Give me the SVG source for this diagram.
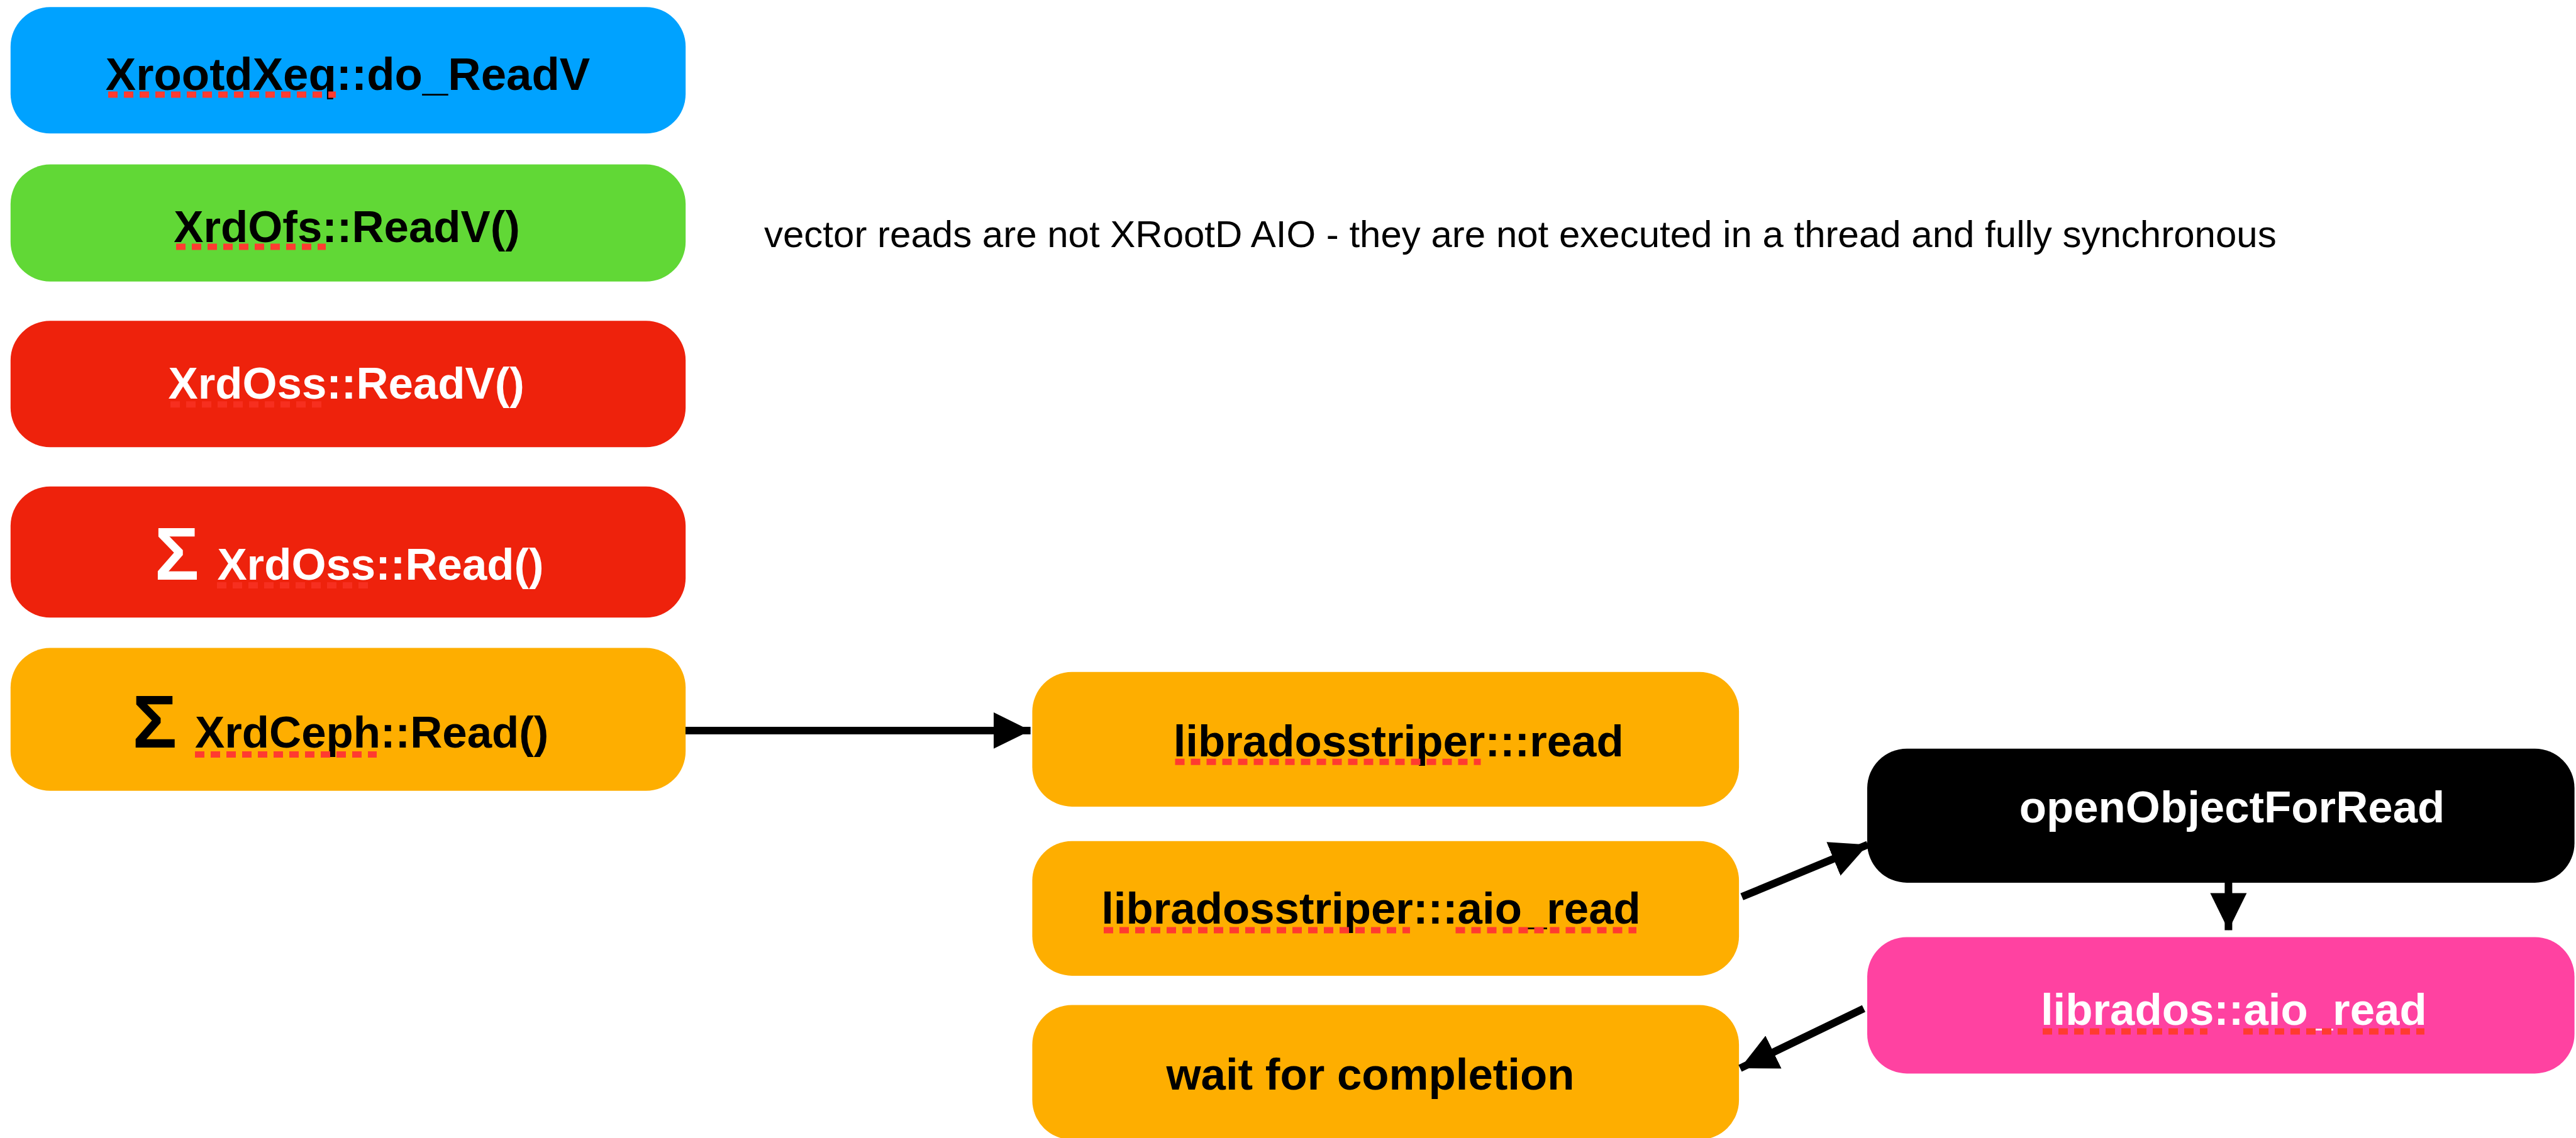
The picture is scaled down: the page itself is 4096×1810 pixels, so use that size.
<svg xmlns="http://www.w3.org/2000/svg" width="4096" height="1810" viewBox="0 0 4096 1810">
<style>
.box{stroke:none}
.lbl{font-family:"Liberation Sans",Arial,Helvetica,sans-serif;font-weight:bold;font-size:70.8px;text-anchor:middle}
.lft{text-anchor:start}
.sig{font-family:"Liberation Sans",Arial,Helvetica,sans-serif;font-weight:bold;font-size:118px}
.blk{fill:#000}
.wht{fill:#fff}
.note{font-family:"Liberation Sans",Arial,Helvetica,sans-serif;font-size:60px;fill:#000}
.sp{stroke:#FF3B30;stroke-width:10;stroke-dasharray:15 10;fill:none}
.sp2{stroke:#FF3B30;stroke-opacity:0.55;stroke-width:10;stroke-dasharray:15 10;fill:none}
.conn{stroke:#000;stroke-width:12;fill:none}
</style>
<defs>
<marker id="ah" markerUnits="userSpaceOnUse" markerWidth="60" markerHeight="60" viewBox="0 0 60 60" refX="59" refY="30" orient="auto">
<path d="M0,1 L59,30 L0,59 Z" fill="#000"/>
</marker>
</defs>
<rect width="4096" height="1810" fill="#fff"/>

<g id="n-xrootdxeq">
<rect class="box" x="16.8" y="11.2" width="1073.4" height="201.1" rx="63" fill="#00A2FF"/>
<text class="lbl blk" x="553" y="143.4" style="font-size:72.6px">XrootdXeq::do_ReadV</text>
<line class="sp" x1="172" y1="150.4" x2="534" y2="150.4"/>
</g>

<g id="n-xrdofs">
<rect class="box" x="16.8" y="261.6" width="1073.4" height="186.2" rx="63" fill="#61D836"/>
<text class="lbl blk" x="551.6" y="385.4">XrdOfs::ReadV()</text>
<line class="sp" x1="280" y1="392.4" x2="518" y2="392.4"/>
</g>

<g id="n-xrdoss-readv">
<rect class="box" x="16.8" y="510.2" width="1073.4" height="201.1" rx="63" fill="#EE220C"/>
<text class="lbl wht" x="550.7" y="634">XrdOss::ReadV()</text>
<line class="sp2" x1="271" y1="643.3" x2="513" y2="643.3"/>
</g>

<g id="n-xrdoss-read">
<rect class="box" x="16.8" y="773.7" width="1073.4" height="208.5" rx="63" fill="#EE220C"/>
<text class="sig wht" x="245.8" y="921.7">Σ</text>
<text class="lbl lft wht" x="345.4" y="921.7">XrdOss::Read()</text>
<line class="sp2" x1="345" y1="931" x2="587" y2="931"/>
</g>

<g id="n-xrdceph-read">
<rect class="box" x="16.8" y="1030.6" width="1073.4" height="227.2" rx="63" fill="#FEAE00"/>
<text class="sig blk" x="210.4" y="1188.9">Σ</text>
<text class="lbl lft blk" x="310" y="1188.9">XrdCeph::Read()</text>
<line class="sp" x1="310" y1="1200" x2="599" y2="1200"/>
</g>

<g id="n-striper-read">
<rect class="box" x="1641.4" y="1068.8" width="1123.7" height="214.1" rx="63" fill="#FEAE00"/>
<text class="lbl blk" x="2223.7" y="1202.9">libradosstriper:::read</text>
<line class="sp" x1="1868.5" y1="1211.7" x2="2354.5" y2="1211.7"/>
</g>

<g id="n-striper-aio-read">
<rect class="box" x="1641.4" y="1337.8" width="1123.7" height="214.1" rx="63" fill="#FEAE00"/>
<text class="lbl blk" x="2180" y="1469.1">libradosstriper:::aio_read</text>
<line class="sp" x1="1755" y1="1479.4" x2="2242" y2="1479.4"/>
<line class="sp" x1="2314.5" y1="1479.4" x2="2602" y2="1479.4"/>
</g>

<g id="n-wait">
<rect class="box" x="1641.4" y="1598.5" width="1123.7" height="214.1" rx="63" fill="#FEAE00"/>
<text class="lbl blk" x="2179" y="1732.6">wait for completion</text>
</g>

<g id="n-open-object">
<rect class="box" x="2969" y="1190.7" width="1124.6" height="213.2" rx="63" fill="#000"/>
<text class="lbl wht" x="3549" y="1308">openObjectForRead</text>
</g>

<g id="n-librados-aio-read">
<rect class="box" x="2969" y="1490.5" width="1124.6" height="216.9" rx="63" fill="#FF42A1"/>
<text class="lbl wht" x="3551.8" y="1630.2">librados::aio_read</text>
<line class="sp" x1="3248" y1="1640.4" x2="3510" y2="1640.4"/>
<line class="sp" x1="3567" y1="1640.4" x2="3855" y2="1640.4"/>
</g>

<g id="note">
<text class="note" x="1215" y="392.9">vector reads are not XRootD AIO - they are not executed in a thread and fully synchronous</text>
</g>

<g id="connectors">
<line class="conn" x1="1090" y1="1161.9" x2="1638.6" y2="1161.9" marker-end="url(#ah)"/>
<line class="conn" x1="2769.7" y1="1426.3" x2="2969.9" y2="1343.4" marker-end="url(#ah)"/>
<line class="conn" x1="3543.4" y1="1403.9" x2="3543.4" y2="1479.4" marker-end="url(#ah)"/>
<line class="conn" x1="2963.4" y1="1604.1" x2="2766.9" y2="1699.1" marker-end="url(#ah)"/>
</g>
</svg>
